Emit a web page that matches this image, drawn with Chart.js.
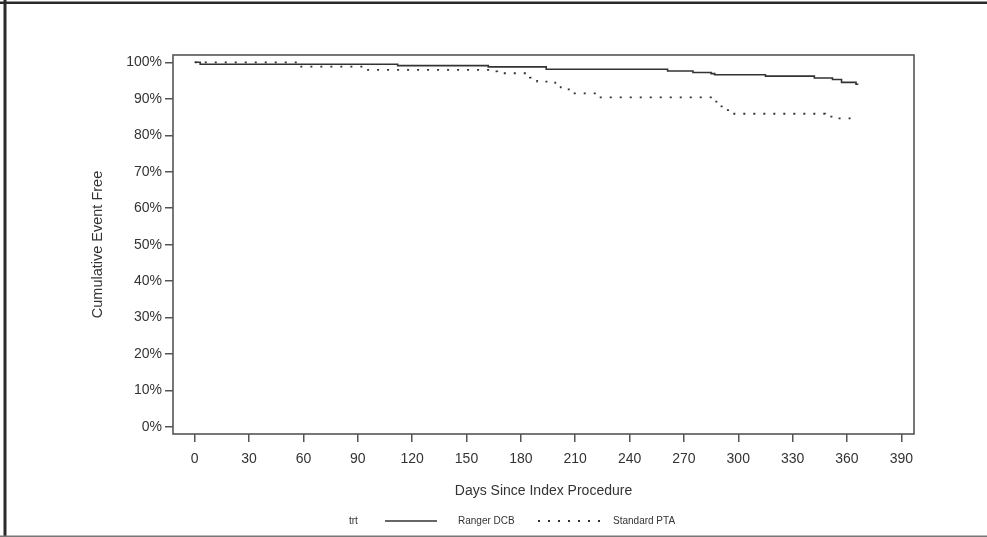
<!DOCTYPE html>
<html><head><meta charset="utf-8">
<script src="https://cdn.jsdelivr.net/npm/chart.js@4"></script>
<style>html,body{margin:0;padding:0;background:#fff;}#wrap{width:987px;height:537px;position:relative;}</style>
</head><body><div id="wrap"><canvas id="c" width="987" height="537"></canvas></div>
<script>
const rangerDays = [0, 3, 112, 162, 194, 261, 275, 285, 287, 315, 342, 352, 357, 365, 366];
const rangerSurv = [100, 99.45, 99.1, 98.75, 98.1, 97.6, 97.2, 96.9, 96.6, 96.2, 95.7, 95.3, 94.5, 94.0, 93.9];
const ptaDays = [0, 57, 94, 162, 167, 185, 189, 199, 202, 209, 222, 287, 289, 292, 295, 348, 354, 363, 364];
const ptaSurv = [100, 98.8, 97.9, 97.5, 97.0, 95.8, 94.7, 94.1, 92.6, 91.5, 90.4, 89.2, 87.9, 86.9, 85.9, 85.1, 84.6, 84.0, 83.9];
const xTicks = [0, 30, 60, 90, 120, 150, 180, 210, 240, 270, 300, 330, 360, 390];
const yTicks = [0, 10, 20, 30, 40, 50, 60, 70, 80, 90, 100];
const seriesNames = ['Ranger DCB', 'Standard PTA'];
const legendTitle = 'trt';
const xTitle = 'Days Since Index Procedure';
const yTitle = 'Cumulative Event Free';

const FONT = '"Liberation Sans", Arial, sans-serif';
const INK = '#333333';
const AXIS = '#555555';

const toPts = (xs, ys) => xs.map((x, i) => ({x: x, y: ys[i]}));

const framePlugin = {
  id: 'frame',
  afterDraw(chart) {
    const ctx = chart.ctx;
    const a = chart.chartArea;
    ctx.save();
    ctx.strokeStyle = AXIS;
    ctx.lineWidth = 1.6;
    ctx.strokeRect(a.left, a.top, a.right - a.left, a.bottom - a.top);
    ctx.strokeStyle = '#2a2a2a';
    ctx.lineWidth = 3;
    ctx.beginPath(); ctx.moveTo(5, 0); ctx.lineTo(5, 537); ctx.stroke();
    ctx.lineWidth = 2.5;
    ctx.beginPath(); ctx.moveTo(0, 2.8); ctx.lineTo(987, 2.8); ctx.stroke();
    ctx.strokeStyle = '#777777';
    ctx.lineWidth = 1.6;
    ctx.beginPath(); ctx.moveTo(0, 536.2); ctx.lineTo(987, 536.2); ctx.stroke();
    const ly = 521;
    ctx.font = '10px ' + FONT;
    ctx.fillStyle = INK;
    ctx.textBaseline = 'middle';
    ctx.textAlign = 'left';
    ctx.fillText(legendTitle, 349, ly);
    const ds = chart.data.datasets;
    const items = [{x0: 385, x1: 437, tx: 458}, {x0: 538, x1: 600, tx: 613}];
    items.forEach((it, i) => {
      ctx.strokeStyle = ds[i].borderColor;
      ctx.lineWidth = ds[i].borderWidth;
      ctx.setLineDash(ds[i].borderDash || []);
      ctx.beginPath(); ctx.moveTo(it.x0, ly); ctx.lineTo(it.x1, ly); ctx.stroke();
      ctx.setLineDash([]);
      ctx.fillText(ds[i].label, it.tx, ly);
    });
    ctx.restore();
  }
};

new Chart(document.getElementById('c'), {
  type: 'line',
  data: {
    datasets: [
      {label: seriesNames[0], data: toPts(rangerDays, rangerSurv), stepped: 'before',
       borderColor: INK, borderWidth: 1.6, pointRadius: 0, fill: false},
      {label: seriesNames[1], data: toPts(ptaDays, ptaSurv), stepped: 'before',
       borderColor: INK, borderWidth: 1.8, borderDash: [2, 8], pointRadius: 0, fill: false}
    ]
  },
  options: {
    responsive: false,
    animation: false,
    devicePixelRatio: 1,
    layout: {padding: {left: 70, right: 73, top: 55, bottom: 33}},
    plugins: {legend: {display: false}, tooltip: {enabled: false}},
    scales: {
      x: {
        type: 'linear', min: -12, max: 397,
        afterBuildTicks: s => { s.ticks = xTicks.map(v => ({value: v})); },
        afterFit: s => { s.height = 70; },
        ticks: {color: INK, font: {family: FONT, size: 14}, padding: 9, maxRotation: 0, autoSkip: false},
        grid: {display: true, drawOnChartArea: false, drawTicks: true, tickLength: 8, color: AXIS, lineWidth: 1.5},
        border: {display: false},
        title: {display: true, text: xTitle, color: INK, font: {family: FONT, size: 14}, padding: {top: 0, bottom: 4}}
      },
      y: {
        type: 'linear', min: -1.9, max: 102,
        afterBuildTicks: s => { s.ticks = yTicks.map(v => ({value: v})); },
        afterFit: s => { s.width = 103; },
        ticks: {color: INK, font: {family: FONT, size: 14}, padding: 3, autoSkip: false,
                callback: v => v + '%'},
        grid: {display: true, drawOnChartArea: false, drawTicks: true, tickLength: 8, color: AXIS, lineWidth: 1.5},
        border: {display: false},
        title: {display: true, text: yTitle, color: INK, font: {family: FONT, size: 14.5}, padding: {top: 19, bottom: 0}}
      }
    }
  },
  plugins: [framePlugin]
});
</script></body></html>
